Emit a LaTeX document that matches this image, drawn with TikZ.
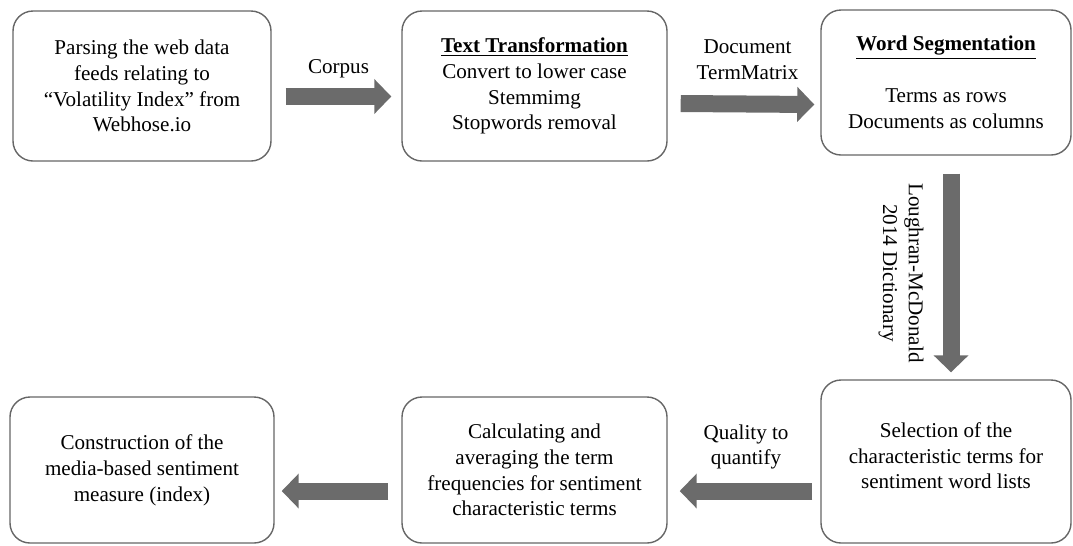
\documentclass[tikz,border=0pt]{standalone}
\usepackage{fontspec}
\setmainfont{Liberation Serif}
\newfontfamily\boxfont{Liberation Serif}
\usetikzlibrary{arrows.meta}
\tikzset{
  stepbox/.style={draw=black!60, line width=0.8pt, rounded corners=0.4cm, align=center,
    font=\boxfont\fontsize{12}{14.7}\selectfont, inner sep=2pt},
  bigarrow/.style={draw=black!58, line width=0.34cm, -{Triangle[width=0.68cm,length=0.34cm]}},
  lbl/.style={align=center, font=\boxfont\fontsize{12}{14.7}\selectfont}
}
\begin{document}
\begin{tikzpicture}
  \useasboundingbox (0,0) rectangle (21.46,-10.9);
  % top row
  \node[stepbox, minimum width=5.16cm, minimum height=3.0cm] (parse) at (2.84,-1.72)
    {Parsing the web data\\feeds relating to\\“Volatility Index” from\\Webhose.io};
  \node[stepbox, minimum width=5.3cm, minimum height=3.0cm] (transform) at (10.69,-1.72)
    {\underline{\textbf{Text Transformation}}\\Convert to lower case\\Stemmimg\\Stopwords removal};
  \node[stepbox, minimum width=5.0cm, minimum height=2.9cm] (segment) at (18.92,-1.65)
    {\underline{\textbf{Word Segmentation}}\\[0.52cm]Terms as rows\\Documents as columns};
  % bottom row
  \node[stepbox, minimum width=5.0cm, minimum height=3.26cm] (select) at (18.92,-9.23)
    {Selection of the\\characteristic terms for\\sentiment word lists\\[-0.28cm]};
  \node[stepbox, minimum width=5.3cm, minimum height=2.92cm] (calc) at (10.69,-9.4)
    {Calculating and\\averaging the term\\frequencies for sentiment\\characteristic terms};
  \node[stepbox, minimum width=5.28cm, minimum height=2.92cm] (measure) at (2.84,-9.4)
    {Construction of the\\media-based sentiment\\measure (index)};
  % arrows
  \draw[bigarrow] ([shift={(0.28,-0.21)}]parse.east) -- node[lbl, yshift=0.55cm]{Corpus}
    ([shift={(-0.2,-0.21)}]transform.west);
  \draw[bigarrow] ([shift={(0.26,-0.35)}]transform.east) -- node[lbl, yshift=0.89cm]{Document\\TermMatrix}
    ([shift={(-0.12,-0.44)}]segment.west);
  \draw[bigarrow] ([shift={(0.1,-0.36)}]segment.south) -- node[lbl, rotate=-90, yshift=-1.0cm]{Loughran-McDonald\\2014 Dictionary}
    ([shift={(0.1,0.14)}]select.north);
  \draw[bigarrow] ([shift={(-0.16,-0.59)}]select.west) -- node[lbl, yshift=0.88cm]{Quality to\\quantify}
    ([shift={(0.24,-0.42)}]calc.east);
  \draw[bigarrow] ([shift={(-0.26,-0.42)}]calc.west) -- ([shift={(0.14,-0.42)}]measure.east);
\end{tikzpicture}
\end{document}
